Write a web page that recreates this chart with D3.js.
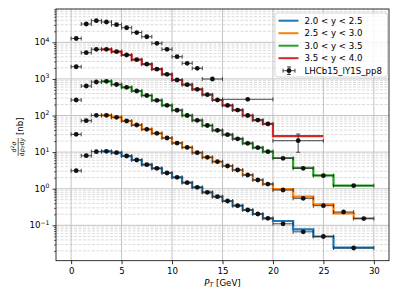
<!DOCTYPE html>
<html>
<head>
<meta charset="utf-8">
<script src="https://cdn.jsdelivr.net/npm/d3@7"></script>
<style>
  body { margin: 0; background: #fff; }
  text { font-family: "DejaVu Sans", sans-serif; }
</style>
</head>
<body>
<div id="chart"></div>
<script>
var svgWidth = 399;
var svgHeight = 299;

var margin = { top: 9, right: 10, bottom: 38.3, left: 56 };
var width = svgWidth - margin.left - margin.right;
var height = svgHeight - margin.top - margin.bottom;

// bin edges (GeV) and measured cross sections (nb), one set per rapidity bin
var topEdges = [0,1,2,3,4,5,6,7,8,9,10,11,12,13,15,20];
var topValues = [12700,31600,38900,35900,30300,25000,18500,14200,9400,6440,4040,2670,1950,993,277];

var redEdges = [0,1,2,3,4,5,6,7,8,9,10,11,12,13,14,15,16,17,18,19,20,25];
var redValues = [2150,5200,6440,6440,5540,4500,3350,2520,1840,1336,933,695,520,370,265,188,141,100,75,59,20.5];
var redErrors = [0,0,0,0,0,0,0,0,0,0,0,0,0,0,0,0,0,0,0,0,10.6];
var redTheory = [6440,5540,4500,3350,2520,1840,1336,933,695,520,370,265,188,141,100,75,59,27.5];

var greenEdges = [0,1,2,3,4,5,6,7,8,9,10,11,12,13,14,15,16,17,18,19,20,22,24,26,30];
var greenValues = [265,640,823,860,703,589,467,352,260,190,139,100,74,53.3,39.4,29.9,23.1,17.4,13.2,10.3,6.77,3.61,2.27,1.21];
var greenTheory = [860,703,589,467,352,260,190,139,100,74,53.3,39.4,29.9,23.1,17.4,13.2,10.3,6.9,3.7,2.3,1.22];

var orangeEdges = [0,1,2,3,4,5,6,7,8,9,10,11,12,13,14,15,16,17,18,19,20,22,24,26,28,30];
var orangeValues = [30.6,72.1,101,101,89.3,70.8,55,42,32.6,24.3,17.7,13.4,9.63,7.21,5.47,4.17,3.24,2.37,1.73,1.34,0.921,0.547,0.343,0.231,0.153];
var orangeTheory = [101,89.3,70.8,55,42,32.6,24.3,17.7,13.4,9.63,7.21,5.47,4.17,3.24,2.37,1.73,1.34,0.98,0.604,0.375,0.213,0.155];

var blueEdges = [0,1,2,3,4,5,6,7,8,9,10,11,12,13,14,15,16,17,18,19,20,22,24,26,30];
var blueValues = [3.10,7.97,10.3,10.5,9.63,7.82,6.08,4.53,3.61,2.69,2.05,1.46,1.09,0.798,0.604,0.461,0.343,0.262,0.204,0.155,0.110,0.0664,0.0494,0.0240];
var blueTheory = [10.5,9.63,7.82,6.08,4.53,3.61,2.69,2.05,1.46,1.09,0.798,0.604,0.461,0.343,0.262,0.204,0.155,0.131,0.0778,0.0494,0.0247];

var theoryStart = 3; // predictions start at pT = 3 GeV

var legendLabels = ["2.0 < y < 2.5", "2.5 < y < 3.0", "3.0 < y < 3.5", "3.5 < y < 4.0"];
var dataLabel = "LHCb15_lY1S_pp8";
var xTicks = [0, 5, 10, 15, 20, 25, 30];
var yMajor = [0.1, 1, 10, 100, 1000, 10000];

var colors = d3.schemeCategory10;
var fs = 8.65;

var svg = d3.select("#chart")
  .append("svg")
  .attr("width", svgWidth)
  .attr("height", svgHeight);

var chartGroup = svg.append("g")
  .attr("transform", `translate(${margin.left}, ${margin.top})`);

var x = d3.scaleLinear().domain([-1.5, 31.5]).range([0, width]);
var y = d3.scaleLog().domain([Math.pow(10, -1.967), Math.pow(10, 4.91)]).range([height, 0]);

// minor ticks on the log axis: 2..9 x 10^k
var yMinor = y.ticks().filter(function(v) {
  var l = Math.log10(v);
  return Math.abs(l - Math.round(l)) > 1e-6;
});

// grid
chartGroup.append("g").selectAll("line")
  .data(yMinor).enter().append("line")
  .attr("x1", 0).attr("x2", width)
  .attr("y1", d => y(d)).attr("y2", d => y(d))
  .attr("stroke", "#d2d2d2").attr("stroke-width", 0.8)
  .attr("stroke-dasharray", "3,1.5");

chartGroup.append("g").selectAll("line")
  .data(yMajor).enter().append("line")
  .attr("x1", 0).attr("x2", width)
  .attr("y1", d => y(d)).attr("y2", d => y(d))
  .attr("stroke", "#c4c4c4").attr("stroke-width", 1);

chartGroup.append("g").selectAll("line")
  .data(xTicks).enter().append("line")
  .attr("y1", 0).attr("y2", height)
  .attr("x1", d => x(d)).attr("x2", d => x(d))
  .attr("stroke", "#c4c4c4").attr("stroke-width", 1);

// prediction step histograms
var stepLine = d3.line()
  .x(d => x(d[0]))
  .y(d => y(d[1]))
  .curve(d3.curveStepAfter);

function stepPoints(edges, theory) {
  var pts = [];
  for (var i = 0; i < theory.length; i++) {
    pts.push([edges[theoryStart + i], theory[i]]);
  }
  pts.push([edges[theoryStart + theory.length], theory[theory.length - 1]]);
  return pts;
}

var hists = [
  { edges: blueEdges, theory: blueTheory, color: colors[0] },
  { edges: orangeEdges, theory: orangeTheory, color: colors[1] },
  { edges: greenEdges, theory: greenTheory, color: colors[2] },
  { edges: redEdges, theory: redTheory, color: colors[3] }
];

hists.forEach(function(h) {
  chartGroup.append("path")
    .attr("d", stepLine(stepPoints(h.edges, h.theory)))
    .attr("fill", "none")
    .attr("stroke", h.color)
    .attr("stroke-width", 2.2);
});

// measured points with error bars
function toPoints(edges, values, errors) {
  return values.map(function(v, i) {
    return { lo: edges[i], hi: edges[i + 1], v: v, e: errors ? errors[i] : 0 };
  });
}

var allPoints = [].concat(
  toPoints(topEdges, topValues),
  toPoints(redEdges, redValues, redErrors),
  toPoints(greenEdges, greenValues),
  toPoints(orangeEdges, orangeValues),
  toPoints(blueEdges, blueValues)
);

var cap = 2;
var errColor = "#333";
var errGroup = chartGroup.append("g")
  .attr("stroke", errColor).attr("stroke-width", 0.9);

allPoints.forEach(function(p) {
  var py = y(p.v);
  errGroup.append("line")
    .attr("x1", x(p.lo)).attr("x2", x(p.hi))
    .attr("y1", py).attr("y2", py);
  errGroup.append("line")
    .attr("x1", x(p.lo)).attr("x2", x(p.lo))
    .attr("y1", py - cap).attr("y2", py + cap);
  errGroup.append("line")
    .attr("x1", x(p.hi)).attr("x2", x(p.hi))
    .attr("y1", py - cap).attr("y2", py + cap);
  if (p.e > 0) {
    var cx = x((p.lo + p.hi) / 2);
    var yt = y(p.v + p.e), yb = y(p.v - p.e);
    errGroup.append("line").attr("x1", cx).attr("x2", cx).attr("y1", yt).attr("y2", yb);
    errGroup.append("line").attr("x1", cx - cap).attr("x2", cx + cap).attr("y1", yt).attr("y2", yt);
    errGroup.append("line").attr("x1", cx - cap).attr("x2", cx + cap).attr("y1", yb).attr("y2", yb);
  }
});

chartGroup.append("g").selectAll("circle")
  .data(allPoints).enter().append("circle")
  .attr("cx", d => x((d.lo + d.hi) / 2))
  .attr("cy", d => y(d.v))
  .attr("r", 2.4)
  .attr("fill", "#111");

// axes
var bottomAxis = d3.axisBottom(x)
  .tickValues(xTicks)
  .tickSize(3.5)
  .tickPadding(3.5);

var xAxis = chartGroup.append("g")
  .attr("transform", `translate(0, ${height})`)
  .call(bottomAxis);
xAxis.select(".domain").remove();
xAxis.selectAll("text").attr("font-size", fs).attr("fill", "#000")
  .attr("font-family", "DejaVu Sans");
xAxis.selectAll("line").attr("stroke", "#000").attr("stroke-width", 0.8);

var leftAxis = d3.axisLeft(y).tickValues(yMajor).tickSize(3.5).tickFormat("");
var yAxis = chartGroup.append("g").call(leftAxis);
yAxis.select(".domain").remove();
yAxis.selectAll("line").attr("stroke", "#000").attr("stroke-width", 0.8);

var minorAxis = d3.axisLeft(y).tickValues(yMinor).tickSize(2).tickFormat("");
var yMinorAxis = chartGroup.append("g").call(minorAxis);
yMinorAxis.select(".domain").remove();
yMinorAxis.selectAll("line").attr("stroke", "#000").attr("stroke-width", 0.6);

// y tick labels as 10^k
yMajor.forEach(function(m) {
  var k = Math.round(Math.log10(m));
  var t = chartGroup.append("text")
    .attr("x", -6.5)
    .attr("y", y(m) + 3.1)
    .attr("text-anchor", "end")
    .attr("font-size", fs);
  t.append("tspan").text("10");
  t.append("tspan")
    .attr("dy", -3.6)
    .attr("font-size", 6.2)
    .text(k < 0 ? "\u2212" + (-k) : String(k));
});

// frame
chartGroup.append("rect")
  .attr("width", width).attr("height", height)
  .attr("fill", "none")
  .attr("stroke", "#000").attr("stroke-width", 0.8);

// x label
var xl = svg.append("text")
  .attr("x", margin.left + width / 2)
  .attr("y", 285.5)
  .attr("text-anchor", "middle")
  .attr("font-size", fs);
xl.append("tspan").attr("font-style", "italic").text("P");
xl.append("tspan").attr("font-style", "italic").attr("font-size", 6.2).attr("dy", 1.8).text("T");
xl.append("tspan").attr("dy", -1.8).text(" [GeV]");

// y label: fraction d2sigma / dpT dy [nb]
var yl = svg.append("g").attr("transform", "translate(0, 135) rotate(-90)");
var num = yl.append("text")
  .attr("x", -12).attr("y", 16.4)
  .attr("text-anchor", "middle")
  .attr("font-size", 6.2);
num.append("tspan").text("d");
num.append("tspan").attr("font-size", 4.6).attr("dy", -2.4).text("2");
num.append("tspan").attr("dy", 2.4).attr("font-style", "italic").text("\u03c3");
yl.append("line")
  .attr("x1", -21).attr("x2", -3)
  .attr("y1", 18.2).attr("y2", 18.2)
  .attr("stroke", "#000").attr("stroke-width", 0.6);
var den = yl.append("text")
  .attr("x", -12).attr("y", 23.6)
  .attr("text-anchor", "middle")
  .attr("font-size", 6.2);
den.append("tspan").text("d");
den.append("tspan").attr("font-style", "italic").text("p");
den.append("tspan").attr("font-style", "italic").attr("font-size", 4.6).attr("dy", 1.2).text("T");
den.append("tspan").attr("dy", -1.2).text("d");
den.append("tspan").attr("font-style", "italic").text("y");
yl.append("text")
  .attr("x", 0).attr("y", 22.6)
  .attr("font-size", fs)
  .text("[nb]");

// legend
var legend = svg.append("g");
legend.append("rect")
  .attr("x", 275).attr("y", 13)
  .attr("width", 112.5).attr("height", 64)
  .attr("rx", 2.5)
  .attr("fill", "#fff").attr("fill-opacity", 0.8)
  .attr("stroke", "#cccccc").attr("stroke-width", 0.8);

var rowY = [20.7, 33.2, 45.7, 58.2, 70.7];
legendLabels.forEach(function(lab, i) {
  legend.append("line")
    .attr("x1", 278.5).attr("x2", 298.5)
    .attr("y1", rowY[i]).attr("y2", rowY[i])
    .attr("stroke", colors[i]).attr("stroke-width", 2);
  legend.append("text")
    .attr("x", 304.5).attr("y", rowY[i] + 3.1)
    .attr("font-size", fs)
    .text(lab);
});

var ly = rowY[4], lx = 289;
var lg = legend.append("g").attr("stroke", errColor).attr("stroke-width", 0.9);
lg.append("line").attr("x1", lx - 6).attr("x2", lx + 6).attr("y1", ly).attr("y2", ly);
lg.append("line").attr("x1", lx - 6).attr("x2", lx - 6).attr("y1", ly - cap).attr("y2", ly + cap);
lg.append("line").attr("x1", lx + 6).attr("x2", lx + 6).attr("y1", ly - cap).attr("y2", ly + cap);
lg.append("line").attr("x1", lx).attr("x2", lx).attr("y1", ly - 3.8).attr("y2", ly + 3.8);
lg.append("line").attr("x1", lx - cap).attr("x2", lx + cap).attr("y1", ly - 3.8).attr("y2", ly - 3.8);
lg.append("line").attr("x1", lx - cap).attr("x2", lx + cap).attr("y1", ly + 3.8).attr("y2", ly + 3.8);
legend.append("circle").attr("cx", lx).attr("cy", ly).attr("r", 2.4).attr("fill", "#111");
legend.append("text")
  .attr("x", 304.5).attr("y", ly + 3.1)
  .attr("font-size", fs)
  .text(dataLabel);
</script>
</body>
</html>
